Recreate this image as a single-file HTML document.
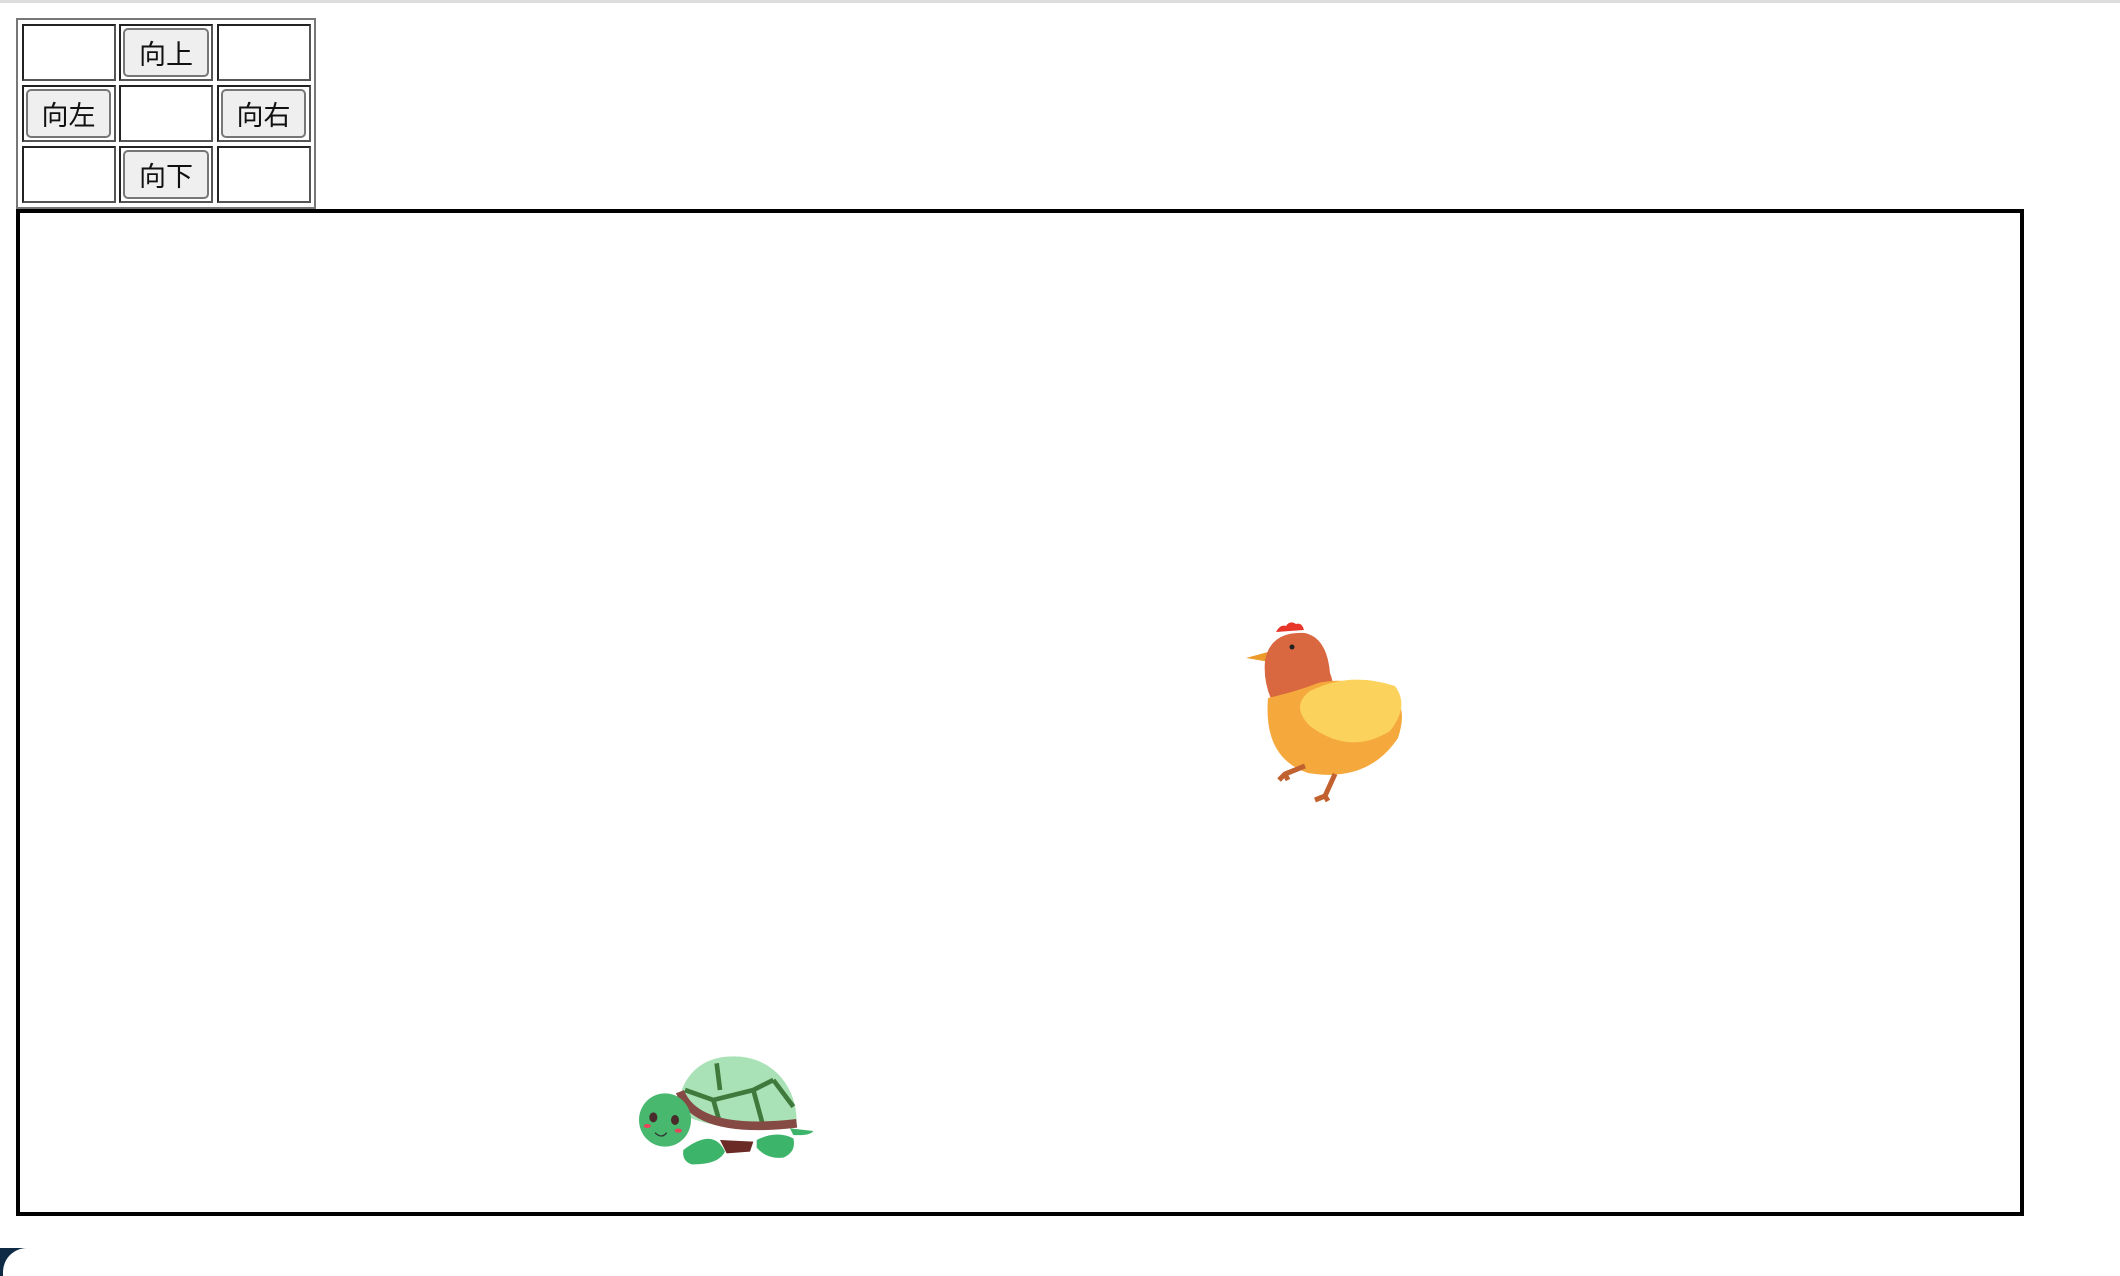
<!DOCTYPE html>
<html><head><meta charset="utf-8">
<style>
html,body{margin:0;padding:0;width:2120px;height:1276px;overflow:hidden;background:#fff;position:relative;font-family:"Liberation Sans","Noto Sans CJK SC",sans-serif}
.a{position:absolute;box-sizing:border-box}
.cell{border:2px solid #222;border-right-color:#555;border-bottom-color:#555;background:#fff}
.btn{border:2px solid #777;border-radius:5px;background:#efefef;font-size:27px;display:flex;align-items:center;justify-content:center;color:#111}
</style></head><body>
<div class="a" style="left:0;top:0;width:2120px;height:3px;background:#ddd"></div>
<div class="a" style="left:16px;top:18px;width:300px;height:191px;border:2px solid #777"></div>
<div class="a cell" style="left:22px;top:24px;width:94px;height:57px"></div>
<div class="a cell" style="left:119px;top:24px;width:94px;height:57px"></div>
<div class="a cell" style="left:217px;top:24px;width:94px;height:57px"></div>
<div class="a cell" style="left:22px;top:85px;width:94px;height:57px"></div>
<div class="a cell" style="left:119px;top:85px;width:94px;height:57px"></div>
<div class="a cell" style="left:217px;top:85px;width:94px;height:57px"></div>
<div class="a cell" style="left:22px;top:146px;width:94px;height:57px"></div>
<div class="a cell" style="left:119px;top:146px;width:94px;height:57px"></div>
<div class="a cell" style="left:217px;top:146px;width:94px;height:57px"></div>
<div class="a btn" style="left:123px;top:28px;width:86px;height:49px">向上</div>
<div class="a btn" style="left:26px;top:89px;width:85px;height:49px">向左</div>
<div class="a btn" style="left:221px;top:89px;width:85px;height:49px">向右</div>
<div class="a btn" style="left:123px;top:150px;width:86px;height:49px">向下</div>
<div class="a" style="left:16px;top:209px;width:2008px;height:1007px;border:4px solid #000"></div>

<svg class="a" style="left:1240px;top:616px" width="170" height="190" viewBox="0 0 170 190">
<path d="M36 16 q4 -8 10 -6 q4 -6 10 -2 q6 -2 8 6 z" fill="#e8352a"/>
<path d="M6 42 l22 -6 l2 10z" fill="#ec9a2a"/>
<path d="M25 45 q5 -30 40 -28 q22 5 25 40 q8 20 -5 35 q-30 10 -52 -5 q-10 -20 -8 -42z" fill="#d9673f"/>
<path d="M28 82 q-5 60 40 75 q60 10 90 -35 q10 -30 -5 -43 q-40 -20 -75 -12 q-20 8 -50 15z" fill="#f5a93c"/>
<path d="M70 75 q40 -20 85 -5 q15 20 -5 45 q-40 25 -80 -5 q-20 -20 0 -35z" fill="#fbd25b"/>
<circle cx="52" cy="31" r="2.5" fill="#222"/>
<path d="M95 158 l-10 22 m0 0 l-10 4 m10 -4 l3 5 M65 150 l-20 8 l-6 6 m6 -6 l3 6" stroke="#c0612f" stroke-width="5" fill="none"/>
</svg>

<svg class="a" style="left:620px;top:1040px" width="220" height="236" viewBox="0 0 660 708">
<path d="M510 265 l70 8 q-10 15 -60 12z" fill="#3cb46a"/>
<path d="M410 300 q60 -30 110 -5 q10 40 -30 58 q-50 5 -80 -30z" fill="#3cb46a"/>
<path d="M300 300 l100 5 l-10 30 l-70 5z" fill="#6b2a26"/>
<path d="M185 150 C220 60 300 45 360 50 C470 60 530 150 530 245 Q350 290 200 230 Z" fill="#a9e2b6"/>
<path d="M195 150 L280 180 L300 250 M280 180 L400 150 L460 120 M400 150 L430 260 M290 70 L300 150 M460 120 L520 200" stroke="#3f7a3c" stroke-width="14" fill="none"/>
<path d="M180 155 Q230 285 530 250" stroke="#854a44" stroke-width="26" fill="none"/>
<ellipse cx="135" cy="240" rx="78" ry="80" fill="#47b86e"/>
<path d="M190 330 q90 -70 125 5 q-20 40 -100 38 q-30 -10 -25 -43z" fill="#3cb46a"/>
<ellipse cx="100" cy="232" rx="12" ry="15" fill="#4a2a2a"/><ellipse cx="165" cy="240" rx="12" ry="15" fill="#4a2a2a"/>
<ellipse cx="82" cy="258" rx="11" ry="6" fill="#e8445a"/><ellipse cx="175" cy="272" rx="11" ry="6" fill="#e8445a"/>
<path d="M105 278 q20 20 35 0" stroke="#333" stroke-width="4" fill="none"/>
</svg>

<div class="a" style="left:0;top:1248px;width:40px;height:28px;background:#0f2a44"></div>
<div class="a" style="left:3px;top:1248px;width:80px;height:40px;background:#fff;border-radius:24px 0 0 0"></div>
</body></html>
